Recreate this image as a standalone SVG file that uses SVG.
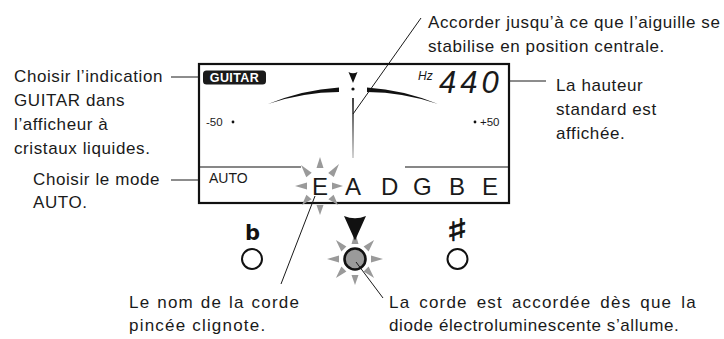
<svg xmlns="http://www.w3.org/2000/svg" width="724" height="339" viewBox="0 0 724 339">
<defs>
<style>
.t{font-family:"Liberation Sans",Arial,sans-serif;font-size:17px;fill:#1a1a1a;letter-spacing:0.6px}
.b{letter-spacing:1.2px}
.s{font-family:"Liberation Sans",Arial,sans-serif;fill:#1a1a1a}
.ld{stroke:#1a1a1a;stroke-width:1;fill:none}
.ray{fill:#9a9a9a}
.ring{fill:#fff;stroke:#111;stroke-width:2}
</style>
<linearGradient id="ng" x1="0" y1="0" x2="0" y2="1">
<stop offset="0" stop-color="#111"/>
<stop offset="1" stop-color="#c8c8c8"/>
</linearGradient>
</defs>
<rect width="724" height="339" fill="#fff"/>

<g id="display">
<rect x="199" y="64" width="310" height="139" fill="none" stroke="#111" stroke-width="2.2"/>
<line x1="199" y1="167" x2="301" y2="167" stroke="#111" stroke-width="1.2"/>
<line x1="405" y1="167" x2="509" y2="167" stroke="#111" stroke-width="1.2"/>
<rect x="203" y="70.5" width="63" height="14" rx="3.5" fill="#1a1a1a"/>
<text class="s" x="234.5" y="82.4" font-size="12.5" font-weight="bold" text-anchor="middle" letter-spacing="0.4" style="fill:#fff">GUITAR</text>
<text class="s" x="206" y="126" font-size="11.5">-50</text>
<circle cx="233" cy="122" r="1.4" fill="#111"/>
<circle cx="475" cy="122" r="1.4" fill="#111"/>
<text class="s" x="480" y="126" font-size="11.5">+50</text>
<text class="s" x="418" y="80" font-size="12" font-style="italic">Hz</text>
<text class="s" x="439" y="93" font-size="31" font-style="italic" letter-spacing="4">440</text>
<text class="s" x="209" y="183" font-size="14">AUTO</text>
</g>

<g id="meter">
<path d="M268,104 A221,221 0 0 1 339,87.4 L339,92 A228,228 0 0 0 268,104 Z" fill="#111"/>
<path d="M367,87.4 A221,221 0 0 1 438,104 A228,228 0 0 0 367,92 Z" fill="#111"/>
<path d="M348.5,72 Q353,74.5 357.5,72 L353,83 Z" fill="#111"/>
<circle cx="353" cy="89" r="1.6" fill="#111"/>
<rect x="352.2" y="98" width="1.6" height="60" fill="url(#ng)"/>
</g>

<g id="strings">
<g id="e-star" class="ray">
<polygon points="316.5,168 323.5,168 320,157"/>
<polygon points="333.8,177.1 328.2,172.9 339,164"/>
<polygon points="332,182.5 332,189.5 343,186"/>
<polygon points="333.6,194.7 328.4,199.3 338,205"/>
<polygon points="316.5,205 323.5,205 320,215"/>
<polygon points="306.4,194.7 311.6,199.3 302,205"/>
<polygon points="307,182.5 307,189.5 295,186"/>
<polygon points="311.7,172.8 306.3,177.2 301,165"/>
</g>
<text class="s" x="312" y="195" font-size="24">E</text>
<text class="s" x="345" y="195" font-size="24">A</text>
<text class="s" x="381" y="195" font-size="24">D</text>
<text class="s" x="413" y="195" font-size="24">G</text>
<text class="s" x="449" y="195" font-size="24">B</text>
<text class="s" x="482" y="195" font-size="24">E</text>
</g>

<g id="flat">
<text x="245" y="240" font-family="'DejaVu Sans',sans-serif" font-weight="bold" font-size="21" fill="#111">b</text>
<circle class="ring" cx="252" cy="259" r="10"/>
</g>

<g id="led">
<g class="ray">
<polygon points="371,255.5 371,262.5 383,259"/>
<polygon points="339,255.5 339,262.5 327,259"/>
<polygon points="351.5,244 358.5,244 355,232"/>
<polygon points="351.5,275 358.5,275 355,285"/>
<polygon points="368.6,251.4 363.6,246.4 374.1,239.9"/>
<polygon points="346.4,246.4 341.4,251.4 335.9,239.9"/>
<polygon points="368.6,266.6 363.6,271.6 374.1,278.1"/>
<polygon points="346.4,271.6 341.4,266.6 335.9,278.1"/>
</g>
<path d="M344,216 Q355,220.5 366,216 L355,240.5 Z" fill="#111"/>
<circle cx="355" cy="259" r="10.5" fill="#9a9a9a" stroke="#111" stroke-width="2.6"/>
</g>

<g id="sharp">
<text transform="translate(457.5,241) scale(1.55,1)" x="0" y="0" font-family="'DejaVu Sans',sans-serif" font-weight="bold" font-size="31" fill="#111" stroke="#111" stroke-width="0.6" text-anchor="middle">♯</text>
<circle class="ring" cx="457.5" cy="259" r="10"/>
</g>

<g id="connectors">
<line class="ld" x1="171" y1="77" x2="199" y2="77"/>
<line class="ld" x1="171" y1="180" x2="199" y2="180"/>
<line class="ld" x1="509" y1="81" x2="546" y2="81"/>
<line class="ld" x1="421" y1="18" x2="353" y2="114"/>
<line class="ld" x1="281" y1="284" x2="315" y2="196"/>
<line class="ld" x1="356" y1="262" x2="383" y2="298"/>
</g>

<g id="labels">
<text class="t" x="428" y="28" letter-spacing="0.75">Accorder jusqu’à ce que l’aiguille se</text>
<text class="t" x="428" y="52" letter-spacing="0.75">stabilise en position centrale.</text>
<text class="t" x="14" y="82">Choisir l’indication</text>
<text class="t" x="14" y="106">GUITAR dans</text>
<text class="t" x="14" y="130">l’afficheur à</text>
<text class="t" x="14" y="154">cristaux liquides.</text>
<text class="t" x="33" y="185">Choisir le mode</text>
<text class="t" x="33" y="208">AUTO.</text>
<text class="t" x="556" y="91">La hauteur</text>
<text class="t" x="556" y="115">standard est</text>
<text class="t" x="556" y="139">affichée.</text>
<text class="t b" x="129" y="308" word-spacing="1">Le nom de la corde</text>
<text class="t b" x="129" y="331">pincée clignote.</text>
<text class="t b" x="389" y="308" word-spacing="3">La corde est accordée dès que la</text>
<text class="t" x="389" y="331" letter-spacing="1.7">diode électroluminescente s’allume.</text>
</g>
</svg>
